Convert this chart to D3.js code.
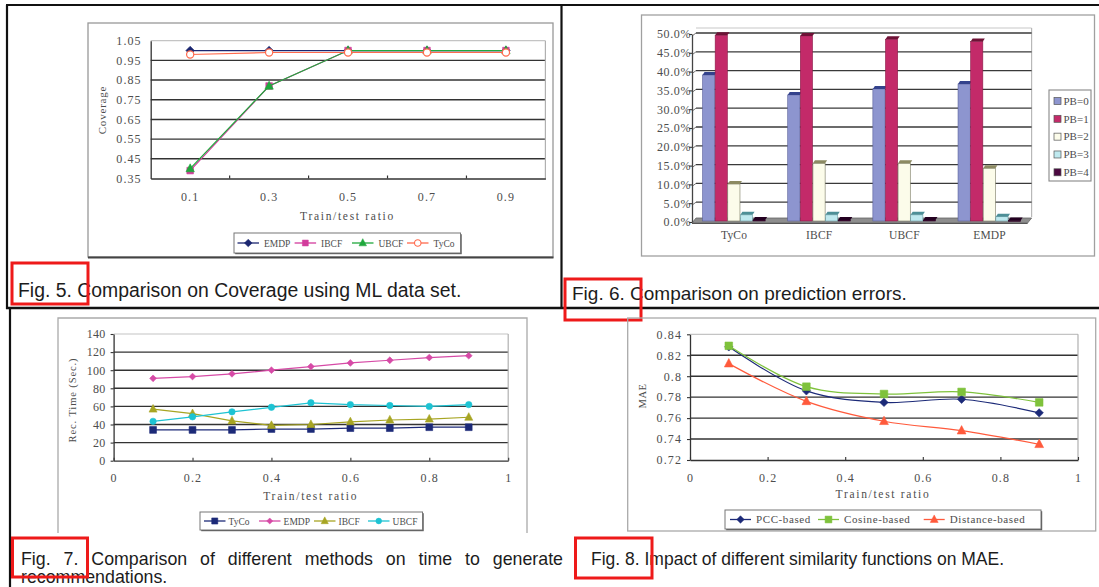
<!DOCTYPE html>
<html><head><meta charset="utf-8">
<script src="https://cdn.jsdelivr.net/npm/d3@7"></script>
<style>body{margin:0;background:#fff}svg{display:block}</style>
</head><body><svg id="c" width="1099" height="587"></svg>
<script>
// ---------------- DATA ----------------
// Fig. 5 – Coverage
const fig5Categories = ["0.1", "0.3", "0.5", "0.7", "0.9"];
const fig5YTicks = [0.35, 0.45, 0.55, 0.65, 0.75, 0.85, 0.95, 1.05];
const fig5EMDP = [1.0, 1.0, 1.0, 1.0, 1.0];
const fig5IBCF = [0.39, 0.82, 1.0, 1.0, 1.0];
const fig5UBCF = [0.40, 0.82, 1.0, 1.0, 1.0];
const fig5TyCo = [0.98, 0.99, 0.99, 0.99, 0.99];

// Fig. 6 – prediction errors (%)
const fig6Categories = ["TyCo", "IBCF", "UBCF", "EMDP"];
const fig6SeriesNames = ["PB=0", "PB=1", "PB=2", "PB=3", "PB=4"];
const fig6PB0 = [39.1, 33.8, 35.4, 36.7];
const fig6PB1 = [49.7, 49.5, 48.6, 48.0];
const fig6PB2 = [10.1, 15.6, 15.6, 14.3];
const fig6PB3 = [1.9, 1.9, 1.9, 1.4];
const fig6PB4 = [0.5, 0.5, 0.5, 0.4];
const fig6YTicks = [0, 5, 10, 15, 20, 25, 30, 35, 40, 45, 50];

// Fig. 7 – time to generate recommendations
const fig7X = [0.1, 0.2, 0.3, 0.4, 0.5, 0.6, 0.7, 0.8, 0.9];
const fig7XTicks = [0, 0.2, 0.4, 0.6, 0.8, 1];
const fig7YTicks = [0, 20, 40, 60, 80, 100, 120, 140];
const fig7TyCo = [34, 34, 34, 35, 35, 36, 36, 37, 37];
const fig7EMDP = [91, 93, 96, 100, 104, 108, 111, 114, 116];
const fig7IBCF = [57, 52, 44, 39, 40, 43, 45, 46, 48];
const fig7UBCF = [43.5, 48.5, 54, 59, 64, 62, 61, 60, 62];

// Fig. 8 – MAE
const fig8X = [0.1, 0.3, 0.5, 0.7, 0.9];
const fig8XTicks = [0, 0.2, 0.4, 0.6, 0.8, 1];
const fig8YTicks = [0.72, 0.74, 0.76, 0.78, 0.8, 0.82, 0.84];
const fig8PCC = [0.828, 0.786, 0.775, 0.778, 0.765];
const fig8Cosine = [0.829, 0.790, 0.783, 0.785, 0.775];
const fig8Distance = [0.812, 0.776, 0.757, 0.748, 0.735];

// ---------------- HELPERS ----------------
const svg = d3.select("#c");
const SERIF = "'Liberation Serif','DejaVu Serif',serif";
const SANS = "'Liberation Sans',Arial,sans-serif";
const TXT = "#4d4d4d";

function chartText(sel, size, ls) {
  return sel.attr("font-family", SERIF).attr("font-size", size).attr("fill", TXT)
    .attr("letter-spacing", ls == null ? 1 : ls);
}
function markerPath(type, s) {
  if (type === "diamond") return `M0,${-s}L${s},0L0,${s}L${-s},0Z`;
  if (type === "square") return `M${-s},${-s}h${2*s}v${2*s}h${-2*s}Z`;
  if (type === "triangle") return `M0,${-s*1.15}L${s},${s*0.75}L${-s},${s*0.75}Z`;
  return d3.symbol(d3.symbolCircle, Math.PI * s * s)();
}
function line(g, x1, y1, x2, y2, stroke, sw) {
  return g.append("line").attr("x1", x1).attr("y1", y1).attr("x2", x2).attr("y2", y2)
    .attr("stroke", stroke).attr("stroke-width", sw);
}
function styleAxis(ax, size) {
  chartText(ax.selectAll("text"), size || 12, 1.1);
  ax.selectAll("line").attr("stroke", "#333").attr("stroke-width", 1.1);
  ax.select(".domain").attr("stroke", "#333").attr("stroke-width", 1.3);
}
function drawSeries(g, xs, ys, data, s) {
  const gen = d3.line().x(d => xs(d.x)).y(d => ys(d.y)).curve(s.curve || d3.curveLinear);
  g.append("path").attr("d", gen(data)).attr("fill", "none").attr("stroke", s.color).attr("stroke-width", s.sw || 1.2);
  g.selectAll(null).data(data).join("path")
    .attr("transform", d => `translate(${xs(d.x)},${ys(d.y)})`)
    .attr("d", markerPath(s.marker, s.ms || 3.8))
    .attr("fill", s.hollow ? "#fff" : s.color)
    .attr("stroke", s.color).attr("stroke-width", s.hollow ? 1.2 : 0.6);
}
function legendBox(x, y, w, h) {
  svg.append("rect").attr("x", x + 1.2).attr("y", y + 1.2).attr("width", w).attr("height", h)
    .attr("fill", "#555");
  svg.append("rect").attr("x", x).attr("y", y).attr("width", w).attr("height", h)
    .attr("fill", "#fff").attr("stroke", "#777").attr("stroke-width", 1);
}
function lineLegend(items, starts, cy, lineLen, textOff, fs, ls) {
  items.forEach((s, i) => {
    const x = starts[i];
    line(svg, x, cy, x + lineLen, cy, s.color, 1.3);
    svg.append("path").attr("transform", `translate(${x + lineLen / 2},${cy})`)
      .attr("d", markerPath(s.marker, (s.ms || 3.8) * 0.9))
      .attr("fill", s.hollow ? "#fff" : s.color).attr("stroke", s.color).attr("stroke-width", s.hollow ? 1.1 : 0.5);
    chartText(svg.append("text").attr("x", x + textOff).attr("y", cy + 3.5).text(s.name), fs, ls);
  });
}
function caption(x, y, str, size) {
  svg.append("text").attr("x", x).attr("y", y).text(str)
    .attr("font-family", SANS).attr("font-size", size).attr("fill", "#1c1c1c");
}
function redBox(x, y, w, h) {
  svg.append("rect").attr("x", x).attr("y", y).attr("width", w).attr("height", h)
    .attr("fill", "none").attr("stroke", "#ee1a1a").attr("stroke-width", 3);
}

// ---------------- PANEL FRAMES ----------------
const fr = svg.append("g");
line(fr, 6, 5, 1099, 5, "#111", 2.2);
line(fr, 7, 5, 7, 309, "#111", 2.2);
line(fr, 561.5, 5, 561.5, 308, "#111", 2.2);
line(fr, 6, 308, 1099, 308, "#111", 2.4);
line(fr, 10, 308, 10, 587, "#111", 2.2);

// ---------------- FIG 5 ----------------
(function () {
  svg.append("rect").attr("x", 88).attr("y", 23).attr("width", 465).attr("height", 234)
    .attr("fill", "#fff").attr("stroke", "#999").attr("stroke-width", 1.3);
  line(svg, 88, 257.5, 553.5, 257.5, "#444", 2);
  const L = 150.7, R = 545.4, T = 40.7, B = 178.5;
  const x = d3.scaleBand().domain(fig5Categories).range([L, R]);
  const y = d3.scaleLinear().domain([0.35, 1.05]).range([B, T]);
  const g = svg.append("g");
  fig5YTicks.slice(1, -1).forEach(v => line(g, L, y(v), R, y(v), "#333", 1.4));
  line(g, L, T, R, T, "#c4c4c4", 1.2);
  line(g, R, T, R, B, "#b0b0b0", 1.2);
  const ya = g.append("g").attr("transform", `translate(${L},0)`)
    .call(d3.axisLeft(y).tickValues(fig5YTicks).tickSize(0).tickPadding(9).tickFormat(d3.format(".2f")));
  styleAxis(ya);
  const xa = g.append("g").attr("transform", `translate(0,${B})`)
    .call(d3.axisBottom(x).tickSize(0).tickPadding(14));
  styleAxis(xa);
  for (let i = 1; i < fig5Categories.length; i++) {
    const bx = L + i * x.step();
    line(g, bx, B - 3, bx, B, "#333", 1.2);
  }
  const cx = c => x(c) + x.bandwidth() / 2;
  const xs = v => v;
  const series = [
    { name: "EMDP", vals: fig5EMDP, color: "#1b2670", marker: "diamond", ms: 4.3 },
    { name: "IBCF", vals: fig5IBCF, color: "#d23c9c", marker: "square", ms: 3.3 },
    { name: "UBCF", vals: fig5UBCF, color: "#1fa83c", marker: "triangle", ms: 4.2 },
    { name: "TyCo", vals: fig5TyCo, color: "#ff6a4d", marker: "circle", ms: 3.6, hollow: true }
  ];
  series.forEach(s => {
    const data = fig5Categories.map((c, i) => ({ x: cx(c), y: s.vals[i] }));
    drawSeries(g, xs, y, data, s);
  });
  chartText(svg.append("text").attr("transform", `translate(106,110) rotate(-90)`).attr("text-anchor", "middle")
    .text("Coverage"), 11, 0.8);
  chartText(svg.append("text").attr("x", 347.5).attr("y", 220).attr("text-anchor", "middle")
    .text("Train/test ratio"), 11.5, 1.7);
  legendBox(234, 233, 226.5, 20);
  lineLegend(series, [237.5, 294.6, 352, 407], 243, 21.5, 26.5, 9.5, 0);
  caption(18, 297, "Fig. 5. Comparison on Coverage using ML data set.", 19.4);
  redBox(12, 263, 76, 41);
})();

// ---------------- FIG 6 ----------------
(function () {
  svg.append("rect").attr("x", 641.5).attr("y", 15).attr("width", 453).attr("height", 241)
    .attr("fill", "#fff").attr("stroke", "#a0a0a0").attr("stroke-width", 1.3);
  const L = 692, R = 1031.6, T = 28, B = 222;
  const x0 = d3.scaleBand().domain(fig6Categories).range([L, R]).paddingInner(0.26).paddingOuter(0.124);
  const x1 = d3.scaleBand().domain(fig6SeriesNames).range([0, x0.bandwidth()]);
  const y = d3.scaleLinear().domain([0, 50]).range([B, 34]);
  const g = svg.append("g");
  // back wall
  line(g, L + 4, T, R, T, "#c8c8c8", 1.2);
  line(g, R, T, R, B - 5, "#b8b8b8", 1.2);
  fig6YTicks.slice(1).forEach(v => {
    line(g, L + 4, y(v) - 1, R, y(v) - 1, "#3a3a3a", 1.3);
    line(g, L, y(v) + 2, L + 4, y(v) - 1, "#777", 1);
  });
  // floor
  g.append("polygon").attr("points", `${L},${B + 1} ${R - 4},${B + 1} ${R},${B - 4} ${L + 4},${B - 4}`)
    .attr("fill", "#8e8e8e").attr("stroke", "#666").attr("stroke-width", 0.8);
  line(g, L, B + 1.5, R - 4, B + 1.5, "#555", 1.2);
  // y axis
  const ya = g.append("g").attr("transform", `translate(${L},0)`)
    .call(d3.axisLeft(y).tickValues(fig6YTicks).tickSize(3).tickSizeOuter(0).tickPadding(-2)
      .tickFormat(d => d.toFixed(1) + "%"));
  styleAxis(ya, 12);
  ya.selectAll("text").attr("letter-spacing", 0.6);
  ya.select(".domain").attr("stroke", "#444");
  const x0a = g.append("g").attr("transform", `translate(0,${B})`)
    .call(d3.axisBottom(x0).tickSize(0).tickPadding(9));
  styleAxis(x0a, 11.5);
  x0a.selectAll("text").attr("letter-spacing", 0.2);
  x0a.select(".domain").remove();
  const colors = ["#8d95cf", "#c32a69", "#fcfcea", "#bfe9ef", "#4b0740"];
  const caps = ["#34428c", "#6e1236", "#8c8a62", "#4d8f97", "#230020"];
  const strokes = ["#5a6099", "#8a1c48", "#777760", "#6a9aa0", "#2a0022"];
  const seriesVals = [fig6PB0, fig6PB1, fig6PB2, fig6PB3, fig6PB4];
  const cells = [];
  fig6SeriesNames.forEach((s, si) => fig6Categories.forEach((c, ci) =>
    cells.push({ s, si, c, v: seriesVals[si][ci] })));
  const bw = x1.bandwidth();
  const bars = g.selectAll(null).data(cells).join("g");
  bars.append("rect")
    .attr("x", d => x0(d.c) + x1(d.s)).attr("y", d => y(d.v))
    .attr("width", bw - 0.4).attr("height", d => Math.max(0.8, y(0) - 1 - y(d.v)))
    .attr("fill", d => colors[d.si]).attr("stroke", d => strokes[d.si]).attr("stroke-width", 0.6);
  bars.append("polygon").attr("points", d => {
    const bx = x0(d.c) + x1(d.s), t = y(d.v);
    return `${bx},${t} ${bx + bw - 0.4},${t} ${bx + bw + 1.6},${t - 3} ${bx + 2},${t - 3}`;
  }).attr("fill", d => caps[d.si]);
  // legend
  svg.append("rect").attr("x", 1049).attr("y", 90).attr("width", 42).attr("height", 91)
    .attr("fill", "#fff").attr("stroke", "#888").attr("stroke-width", 1.1);
  const ly = d3.scalePoint().domain(fig6SeriesNames).range([101, 172.3]);
  fig6SeriesNames.forEach((s, i) => {
    svg.append("rect").attr("x", 1054).attr("y", ly(s) - 3.5).attr("width", 7).attr("height", 7)
      .attr("fill", colors[i]).attr("stroke", "#555").attr("stroke-width", 0.7);
    chartText(svg.append("text").attr("x", 1063.5).attr("y", ly(s) + 3.8).text(s), 11, 0);
  });
  caption(572, 299.5, "Fig. 6. Comparison on prediction errors.", 19);
  redBox(565, 279, 76, 41);
})();

// ---------------- FIG 7 ----------------
(function () {
  svg.append("path").attr("d", "M58,533 L58,318 L527,318 L527,533")
    .attr("fill", "none").attr("stroke", "#aaa").attr("stroke-width", 1.3);
  const L = 113.6, R = 508.2, T = 334, B = 460.7;
  const x = d3.scaleLinear().domain([0, 1]).range([L, R]);
  const y = d3.scaleLinear().domain([0, 140]).range([B, T]);
  const g = svg.append("g");
  fig7YTicks.slice(1, -1).forEach(v => line(g, L, y(v), R, y(v), "#333", 1.4));
  line(g, L, T, R, T, "#c4c4c4", 1.2);
  line(g, R, T, R, B, "#b0b0b0", 1.2);
  const ya = g.append("g").attr("transform", `translate(${L},0)`)
    .call(d3.axisLeft(y).tickValues(fig7YTicks).tickSize(3).tickSizeOuter(0).tickPadding(5));
  styleAxis(ya);
  ya.selectAll("text").attr("letter-spacing", 0.3);
  const xa = g.append("g").attr("transform", `translate(0,${B})`)
    .call(d3.axisBottom(x).tickValues(fig7XTicks).tickSizeInner(-3).tickSizeOuter(0).tickPadding(13)
      .tickFormat(d => String(d)));
  styleAxis(xa);
  const series = [
    { name: "TyCo", vals: fig7TyCo, color: "#1c2a78", marker: "square", ms: 3.4 },
    { name: "EMDP", vals: fig7EMDP, color: "#d64aa6", marker: "diamond", ms: 3.4 },
    { name: "IBCF", vals: fig7IBCF, color: "#a7a523", marker: "triangle", ms: 4 },
    { name: "UBCF", vals: fig7UBCF, color: "#1dc3d3", marker: "circle", ms: 3.2 }
  ];
  series.forEach(s => {
    const data = fig7X.map((v, i) => ({ x: v, y: s.vals[i] }));
    drawSeries(g, x, y, data, s);
  });
  chartText(svg.append("text").attr("transform", `translate(76,400) rotate(-90)`).attr("text-anchor", "middle")
    .text("Rec. Time (Sec.)"), 10.5, 0.9);
  chartText(svg.append("text").attr("x", 310.7).attr("y", 499.5).attr("text-anchor", "middle")
    .text("Train/test ratio"), 11.5, 1.7);
  legendBox(200, 512, 222.5, 18);
  lineLegend(series, [204, 259, 314, 368], 521, 21.5, 24.6, 9.5, 0);
  // justified caption line
  const words = "Fig. 7. Comparison of different methods on time to generate".split(" ");
  const tg = svg.append("g");
  const nodes = words.map(w => tg.append("text").text(w).attr("font-family", SANS)
    .attr("font-size", 17.8).attr("fill", "#1c1c1c").attr("y", 565));
  const widths = nodes.map(n => n.node().getComputedTextLength());
  const left = 21, right = 563;
  const gap = (right - left - d3.sum(widths)) / (words.length - 1);
  let cxp = left;
  nodes.forEach((n, i) => { n.attr("x", cxp); cxp += widths[i] + gap; });
  caption(21, 583, "recommendations.", 17.8);
  redBox(12.5, 538, 75, 39);
})();

// ---------------- FIG 8 ----------------
(function () {
  svg.append("rect").attr("x", 627.7).attr("y", 318).attr("width", 468).attr("height", 213)
    .attr("fill", "none").attr("stroke", "#aaa").attr("stroke-width", 1.3);
  const L = 690, R = 1078, T = 334.3, B = 460;
  const x = d3.scaleLinear().domain([0, 1]).range([L, R]);
  const y = d3.scaleLinear().domain([0.72, 0.84]).range([B, T]);
  const g = svg.append("g");
  fig8YTicks.slice(1, -1).forEach(v => line(g, L, y(v), R, y(v), "#333", 1.4));
  line(g, L, T, R, T, "#c4c4c4", 1.2);
  line(g, R, T, R, B, "#b0b0b0", 1.2);
  const ya = g.append("g").attr("transform", `translate(${L},0)`)
    .call(d3.axisLeft(y).tickValues(fig8YTicks).tickSize(3).tickSizeOuter(0).tickPadding(5)
      .tickFormat(d => String(+d.toFixed(2))));
  styleAxis(ya);
  const xa = g.append("g").attr("transform", `translate(0,${B})`)
    .call(d3.axisBottom(x).tickValues(fig8XTicks).tickSizeInner(-3).tickSizeOuter(0).tickPadding(13)
      .tickFormat(d => String(d)));
  styleAxis(xa);
  const series = [
    { name: "PCC-based", vals: fig8PCC, color: "#1c2a78", marker: "diamond", ms: 4.2, curve: d3.curveCatmullRom },
    { name: "Cosine-based", vals: fig8Cosine, color: "#7fc23c", marker: "square", ms: 3.8, curve: d3.curveCatmullRom },
    { name: "Distance-based", vals: fig8Distance, color: "#ff5a3c", marker: "triangle", ms: 4.4, curve: d3.curveCatmullRom }
  ];
  series.forEach(s => {
    const data = fig8X.map((v, i) => ({ x: v, y: s.vals[i] }));
    drawSeries(g, x, y, data, s);
  });
  chartText(svg.append("text").attr("transform", `translate(646,396) rotate(-90)`).attr("text-anchor", "middle")
    .text("MAE"), 10.5, 0.5);
  chartText(svg.append("text").attr("x", 883).attr("y", 498).attr("text-anchor", "middle")
    .text("Train/test ratio"), 11.5, 1.7);
  legendBox(725, 510, 316, 19);
  lineLegend(series, [730, 818, 923.7], 519.5, 21, 26, 11, 0.6);
  caption(591, 565, "Fig. 8. Impact of different similarity functions on MAE.", 17.5);
  redBox(575.5, 538, 76.5, 40);
})();
</script></body></html>
